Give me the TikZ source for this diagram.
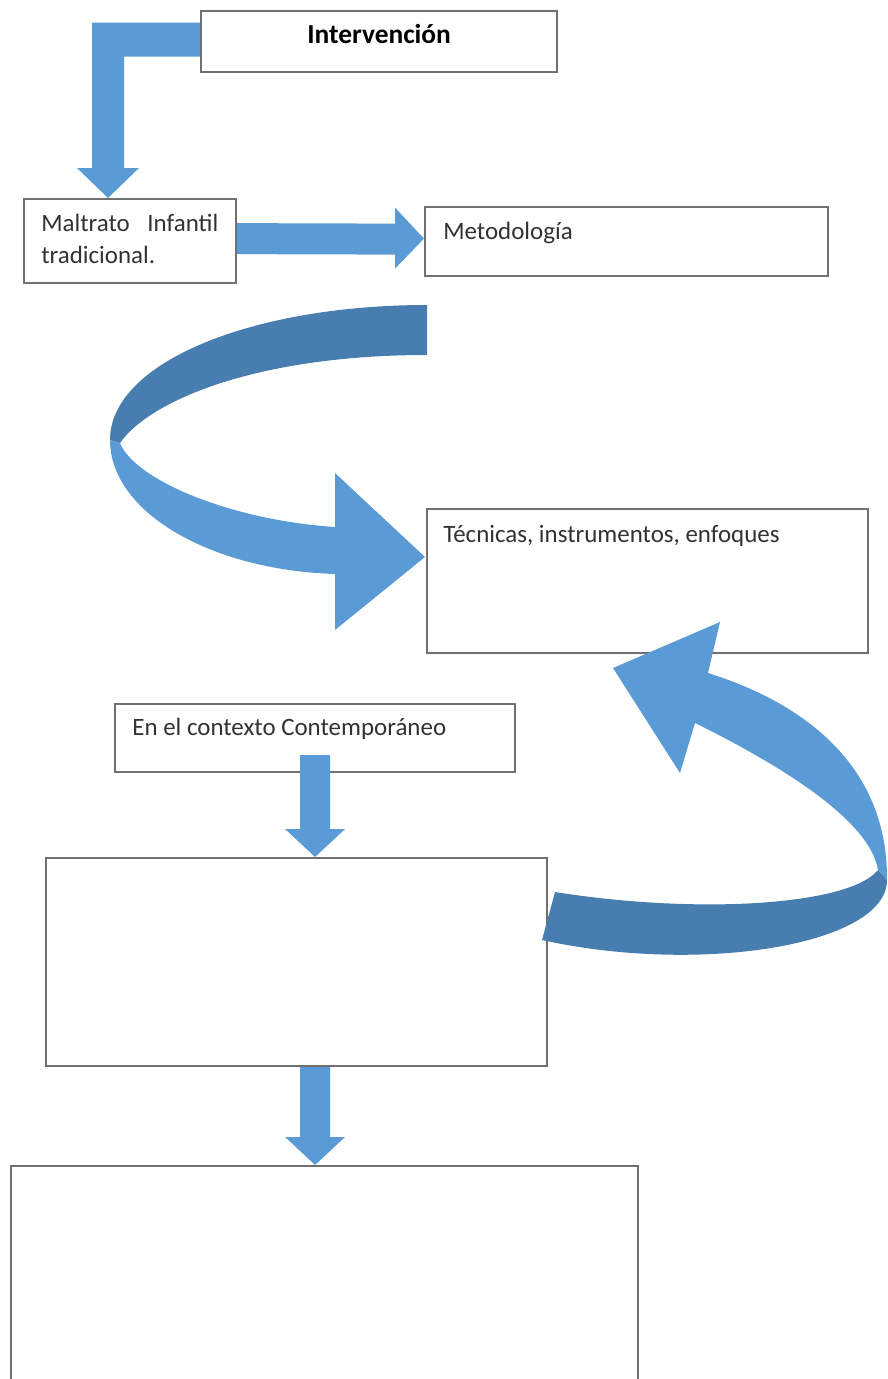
\documentclass[tikz,border=0pt]{standalone}
\usepackage{fontspec}
\setmainfont{Carlito}
\usetikzlibrary{calc}
\definecolor{azul}{RGB}{91,155,213}
\definecolor{azulosc}{RGB}{72,125,175}
\definecolor{borde}{RGB}{112,112,112}
\definecolor{texto}{RGB}{50,50,50}
% flecha gruesa hacia abajo: #1 inicio del cuerpo, #2 punta
\newcommand{\bajada}[2]{%
  \fill[flecha] ($(#1)+(-15,0)$) -- ($(#2)+(-15,-28)$) -- ($(#2)+(-30,-28)$) -- (#2)
    -- ($(#2)+(30,-28)$) -- ($(#2)+(15,-28)$) -- ($(#1)+(15,0)$) -- cycle;}

\begin{document}
\begin{tikzpicture}[x=0.02cm, y=-0.02cm,
  caja/.style={draw=borde, line width=0.045cm, fill=white, anchor=north west, inner sep=0pt},
  etiq/.style={anchor=base west, inner sep=0pt, text=texto, font=\fontsize{14.2}{18.2}\selectfont},
  titulo/.style={anchor=base, inner sep=0pt, text=black, font=\bfseries\fontsize{15.6}{18}\selectfont},
  flecha/.style={fill=azul},
  flechaosc/.style={fill=azulosc}]
  \useasboundingbox (0,0) rectangle (888,1379);
  \clip (0,0) rectangle (888,1379);
  % cajas
  \node[caja, minimum width=7.12cm, minimum height=1.22cm,
    label={[titulo, yshift=-0.68cm]north:Intervención}] (int) at (200,10) {};
  \node[caja, minimum width=4.24cm, minimum height=1.68cm,
    label={[etiq, anchor=north west, xshift=0.36cm, yshift=-0.32cm, text width=3.54cm, align=justify]north west:Maltrato Infantil tradicional.}] (mal) at (23,198) {};
  \node[caja, minimum width=8.06cm, minimum height=1.38cm,
    label={[etiq, xshift=0.38cm, yshift=-0.68cm]north west:Metodología}] (met) at (424,206) {};
  \node[caja, minimum width=8.82cm, minimum height=2.88cm,
    label={[etiq, xshift=0.34cm, yshift=-0.68cm]north west:Técnicas, instrumentos, enfoques}] (tec) at (426,508) {};
  \node[caja, minimum width=8cm, minimum height=1.36cm,
    label={[etiq, xshift=0.36cm, yshift=-0.64cm]north west:En el contexto Contemporáneo}] (ctx) at (114,703) {};
  \node[caja, minimum width=10.02cm, minimum height=4.16cm] (vac) at (45,857) {};
  \node[caja, minimum width=12.54cm, minimum height=4.8cm] (fin) at (10,1165) {};

  % flecha en codo: Intervención -> Maltrato
  \coordinate (codo) at ($(mal.north west)+(85,0)$);
  \coordinate (esq) at (int.west -| codo);
  \fill[flecha] ($(int.west)+(0,-19)$) -- ($(esq)+(-16,-19)$) -- ($(codo)+(-16,-30)$)
    -- ($(codo)+(-31,-30)$) -- (codo) -- ($(codo)+(31,-30)$) -- ($(codo)+(16,-30)$)
    -- ($(esq)+(16,15)$) -- ($(int.west)+(0,15)$) -- cycle;
  % Maltrato -> Metodología
  \fill[flecha] ($(mal.east)+(0,-18)$) -- ($(met.west)+(-29,-18)$) -- ($(met.west)+(-29,-34)$)
    -- ($(met.west)+(0,-3)$) -- ($(met.west)+(-29,27)$) -- ($(met.west)+(-29,13)$)
    -- ($(mal.east)+(0,13)$) -- cycle;

  % cinta curva hacia Técnicas
  \fill[flechaosc] (427,305) .. controls (253,305) and (110,362) .. (110,440) -- (120,443)
    .. controls (150,400) and (258,355) .. (427,355) -- cycle;
  \fill[flecha] (110,440) .. controls (110,512) and (210,570) .. (335,574) -- (335,630)
    -- (425,557) -- (335,473) -- (335,527) .. controls (230,520) and (135,480) .. (120,443) -- cycle;

  % cinta de vuelta desde la caja central
  \fill[flechaosc] (555,892) .. controls (700,915) and (850,905) .. (878,870) -- (887,880)
    .. controls (887,945) and (700,975) .. (542,940) -- cycle;
  \fill[flecha] (878,870) -- (887,880) .. controls (888,770) and (810,705) .. (708,673)
    -- (720,622) -- (613,668) -- (680,773) -- (695,723)
    .. controls (780,765) and (870,820) .. (878,870) -- cycle;

  % flechas verticales
  \coordinate (s1) at ($(ctx.south)+(0,-18)$);
  \coordinate (p1) at (ctx.south |- vac.north);
  \coordinate (s2) at (ctx.south |- vac.south);
  \coordinate (p2) at (ctx.south |- fin.north);
  \bajada{s1}{p1}
  \bajada{s2}{p2}
\end{tikzpicture}
\end{document}
